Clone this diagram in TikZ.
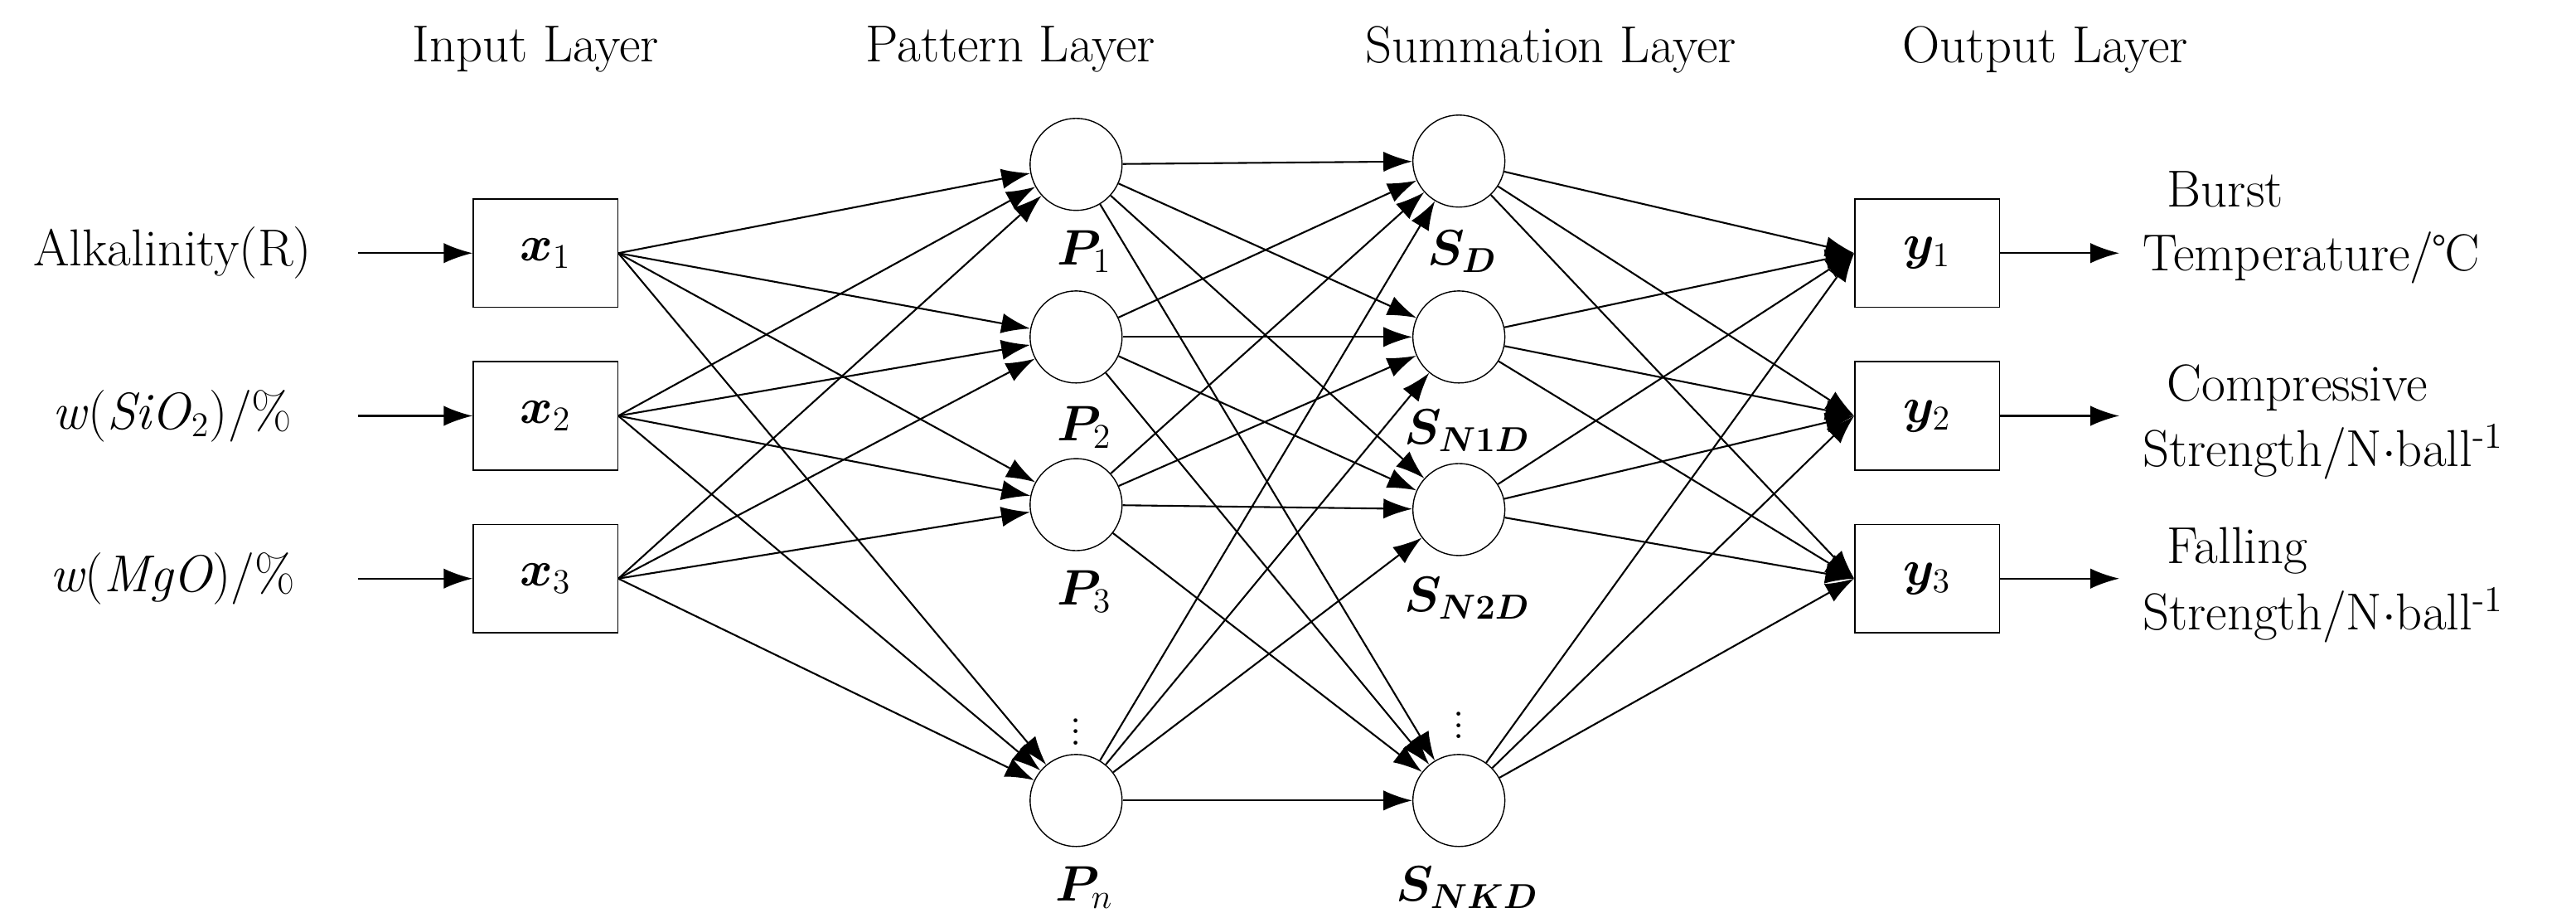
\documentclass[tikz,border=0pt]{standalone}
\usepackage{amsmath,bm}
\usetikzlibrary{arrows.meta}
\begin{document}
\begin{tikzpicture}[x=0.02cm,y=-0.02cm,
  font=\fontsize{18}{21}\selectfont,
  box/.style={draw,minimum width=1.76cm,minimum height=1.32cm,inner sep=0},
  neu/.style={draw,circle,minimum size=1.12cm,inner sep=0},
  dots/.style={inner sep=0pt,font=\fontsize{14}{14}\selectfont},
  arr/.style={-{Latex[length=10pt,width=7pt]},line width=0.6pt}]
\useasboundingbox (0,0) rectangle (1568,555);
% titles
\node at (326,30) {Input Layer};
\node at (615,30) {Pattern Layer};
\node at (944,30) {Summation Layer};
\node at (1245,30) {Output Layer};
% boxes
\node[box] (x1) at (332,154) {$\bm{x}_1$};
\node[box] (x2) at (332,253) {$\bm{x}_2$};
\node[box] (x3) at (332,352) {$\bm{x}_3$};
\node[box] (y1) at (1173,154) {$\bm{y}_1$};
\node[box] (y2) at (1173,253) {$\bm{y}_2$};
\node[box] (y3) at (1173,352) {$\bm{y}_3$};
% pattern
\node[neu] (p1) at (655,100) {};
\node[neu] (p2) at (655,205) {};
\node[neu] (p3) at (655,307) {};
\node[neu] (pn) at (655,487) {};
\node at (660,153) {$\bm{P}_1$};
\node at (660,260) {$\bm{P}_2$};
\node at (660,360) {$\bm{P}_3$};
\node[dots] at (655,440) {$\vdots$};
\node at (660,540) {$\bm{P}_n$};
% summation
\node[neu] (s1) at (888,98) {};
\node[neu] (s2) at (888,205) {};
\node[neu] (s3) at (888,310) {};
\node[neu] (s4) at (888,487) {};
\node at (890,153) {$\bm{S}_{\bm{D}}$};
\node at (893,262) {$\bm{S}_{\bm{N1D}}$};
\node at (893,364) {$\bm{S}_{\bm{N2D}}$};
\node[dots] at (888,436) {$\vdots$};
\node at (893,540) {$\bm{S}_{\bm{NKD}}$};
% input labels
\node (a1) at (105,154) {Alkalinity(R)};
\node (a2) at (105,253) {\textit{w}(\textit{SiO}$_2$)/\%};
\node (a3) at (105,352) {\textit{w}(\textit{MgO})/\%};
\coordinate (i1) at (218,154);
\coordinate (i2) at (218,253);
\coordinate (i3) at (218,352);
\foreach \i in {1,2,3} \draw[arr] (i\i) -- (x\i.west);
% outputs
\coordinate (o1) at (1290,154);
\coordinate (o2) at (1290,253);
\coordinate (o3) at (1290,352);
\foreach \i in {1,2,3} \draw[arr] (y\i.east) -- (o\i);
\node[anchor=west] (t1) at (1313,115) {Burst};
\node[anchor=west] (t2) at (1298,157) {Temperature/\textcelsius};
\node[anchor=west] (t3) at (1313,236) {Compressive};
\node[anchor=west] (t4) at (1298,275) {Strength/N$\cdot$ball$^{\text{-1}}$};
\node[anchor=west] (t5) at (1313,335) {Falling};
\node[anchor=west] (t6) at (1298,374) {Strength/N$\cdot$ball$^{\text{-1}}$};
% connections
\foreach \a in {x1,x2,x3} \foreach \b in {p1,p2,p3,pn} \draw[arr] (\a.east) -- (\b);
\foreach \a in {p1,p2,p3,pn} \foreach \b in {s1,s2,s3,s4} \draw[arr] (\a) -- (\b);
\foreach \a in {s1,s2,s3,s4} \foreach \b in {y1,y2,y3} \draw[arr] (\a) -- (\b.west);
\end{tikzpicture}
\end{document}
